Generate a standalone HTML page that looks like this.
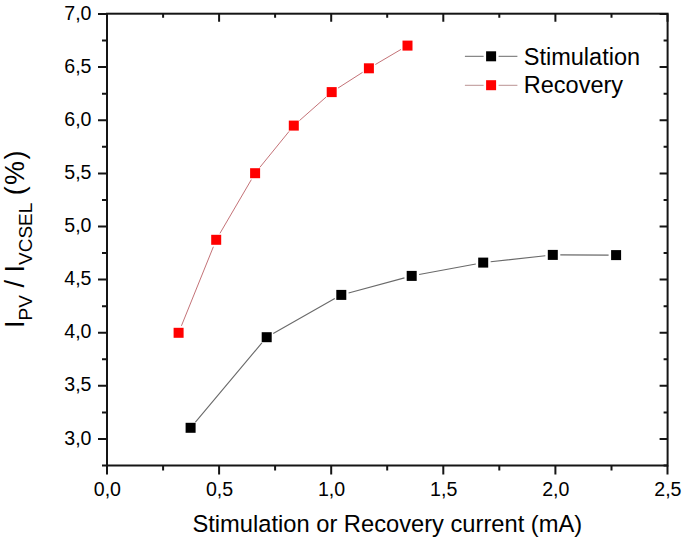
<!DOCTYPE html><html><head><meta charset="utf-8"><style>html,body{margin:0;padding:0;background:#fff;}svg{display:block;}text{font-family:"Liberation Sans",sans-serif;fill:#000;}</style></head><body>
<svg width="685" height="540" viewBox="0 0 685 540">
<path fill="none" stroke="#6a6a6a" stroke-width="1.1" d="M195.42 422.06L261.88 342.94M273.22 333.50L334.78 298.60M348.54 292.95L404.46 277.85M419.07 274.53L475.83 263.97M490.65 261.78L545.35 255.72M560.30 254.92L608.60 255.08"/>
<path fill="none" stroke="#c06a70" stroke-width="0.95" d="M181.41 325.85L213.39 246.75M219.98 233.32L251.32 179.68M259.83 167.38L289.07 131.42M299.42 120.63L326.08 97.07M338.02 88.06L362.58 72.34M375.36 64.50L401.04 49.40"/>
<rect x="185.6" y="422.8" width="10" height="10" fill="#000"/>
<rect x="261.7" y="332.2" width="10" height="10" fill="#000"/>
<rect x="336.3" y="289.9" width="10" height="10" fill="#000"/>
<rect x="406.7" y="270.9" width="10" height="10" fill="#000"/>
<rect x="478.2" y="257.6" width="10" height="10" fill="#000"/>
<rect x="547.8" y="249.9" width="10" height="10" fill="#000"/>
<rect x="611.1" y="250.1" width="10" height="10" fill="#000"/>
<rect x="173.6" y="327.8" width="10" height="10" fill="#f00"/>
<rect x="211.2" y="234.8" width="10" height="10" fill="#f00"/>
<rect x="250.1" y="168.2" width="10" height="10" fill="#f00"/>
<rect x="288.8" y="120.6" width="10" height="10" fill="#f00"/>
<rect x="326.7" y="87.1" width="10" height="10" fill="#f00"/>
<rect x="363.9" y="63.3" width="10" height="10" fill="#f00"/>
<rect x="402.5" y="40.6" width="10" height="10" fill="#f00"/>
<g stroke="#151515" stroke-width="2" fill="none">
<rect x="107.0" y="13.7" width="560.6" height="451.8"/>
<path d="M107.0 465.5H102.0M667.6 465.5H663.6M107.0 439.0H98.0M667.6 439.0H659.6M107.0 412.4H102.0M667.6 412.4H663.6M107.0 385.8H98.0M667.6 385.8H659.6M107.0 359.3H102.0M667.6 359.3H663.6M107.0 332.7H98.0M667.6 332.7H659.6M107.0 306.2H102.0M667.6 306.2H663.6M107.0 279.6H98.0M667.6 279.6H659.6M107.0 253.0H102.0M667.6 253.0H663.6M107.0 226.5H98.0M667.6 226.5H659.6M107.0 199.9H102.0M667.6 199.9H663.6M107.0 173.4H98.0M667.6 173.4H659.6M107.0 146.8H102.0M667.6 146.8H663.6M107.0 120.2H98.0M667.6 120.2H659.6M107.0 93.7H102.0M667.6 93.7H663.6M107.0 67.1H98.0M667.6 67.1H659.6M107.0 40.6H102.0M667.6 40.6H663.6M107.0 14.0H98.0M667.6 14.0H659.6M107.0 465.5V474.5M107.0 13.7V21.7M163.1 465.5V470.5M163.1 13.7V17.7M219.1 465.5V474.5M219.1 13.7V21.7M275.1 465.5V470.5M275.1 13.7V17.7M331.2 465.5V474.5M331.2 13.7V21.7M387.2 465.5V470.5M387.2 13.7V17.7M443.3 465.5V474.5M443.3 13.7V21.7M499.3 465.5V470.5M499.3 13.7V17.7M555.4 465.5V474.5M555.4 13.7V21.7M611.5 465.5V470.5M611.5 13.7V17.7M667.5 465.5V474.5M667.5 13.7V21.7"/>
</g>
<text x="91.5" y="444.5" font-size="19.6" text-anchor="end">3,0</text>
<text x="91.5" y="391.3" font-size="19.6" text-anchor="end">3,5</text>
<text x="91.5" y="338.2" font-size="19.6" text-anchor="end">4,0</text>
<text x="91.5" y="285.1" font-size="19.6" text-anchor="end">4,5</text>
<text x="91.5" y="232.0" font-size="19.6" text-anchor="end">5,0</text>
<text x="91.5" y="178.9" font-size="19.6" text-anchor="end">5,5</text>
<text x="91.5" y="125.7" font-size="19.6" text-anchor="end">6,0</text>
<text x="91.5" y="72.6" font-size="19.6" text-anchor="end">6,5</text>
<text x="91.5" y="19.5" font-size="19.6" text-anchor="end">7,0</text>
<text x="107.4" y="495.6" font-size="19.6" text-anchor="middle">0,0</text>
<text x="219.5" y="495.6" font-size="19.6" text-anchor="middle">0,5</text>
<text x="331.6" y="495.6" font-size="19.6" text-anchor="middle">1,0</text>
<text x="443.7" y="495.6" font-size="19.6" text-anchor="middle">1,5</text>
<text x="555.8" y="495.6" font-size="19.6" text-anchor="middle">2,0</text>
<text x="667.9" y="495.6" font-size="19.6" text-anchor="middle">2,5</text>
<text x="387.3" y="531.6" font-size="23.7" text-anchor="middle">Stimulation or Recovery current (mA)</text>
<text transform="translate(24,327.9) rotate(-90)" font-size="27">I<tspan font-size="19" dy="7.5">PV</tspan><tspan dy="-7.5"> / I</tspan><tspan font-size="19" dy="7.5">VCSEL</tspan><tspan dy="-7.5"> (</tspan><tspan dx="1.2">%</tspan><tspan dx="1.6">)</tspan></text>
<path fill="none" stroke="#888" stroke-width="1.2" d="M464.90 56.40L483.60 56.40M498.60 56.40L517.40 56.40"/>
<path fill="none" stroke="#c8a8a8" stroke-width="1.2" d="M464.90 85.30L483.60 85.30M498.60 85.30L517.40 85.30"/>
<rect x="486.1" y="51.3" width="10" height="10" fill="#000"/>
<rect x="486.1" y="80.2" width="10" height="10" fill="#f00"/>
<text x="523.8" y="64.5" font-size="23.5">Stimulation</text>
<text x="523.8" y="92.9" font-size="23.5">Recovery</text>
</svg></body></html>
